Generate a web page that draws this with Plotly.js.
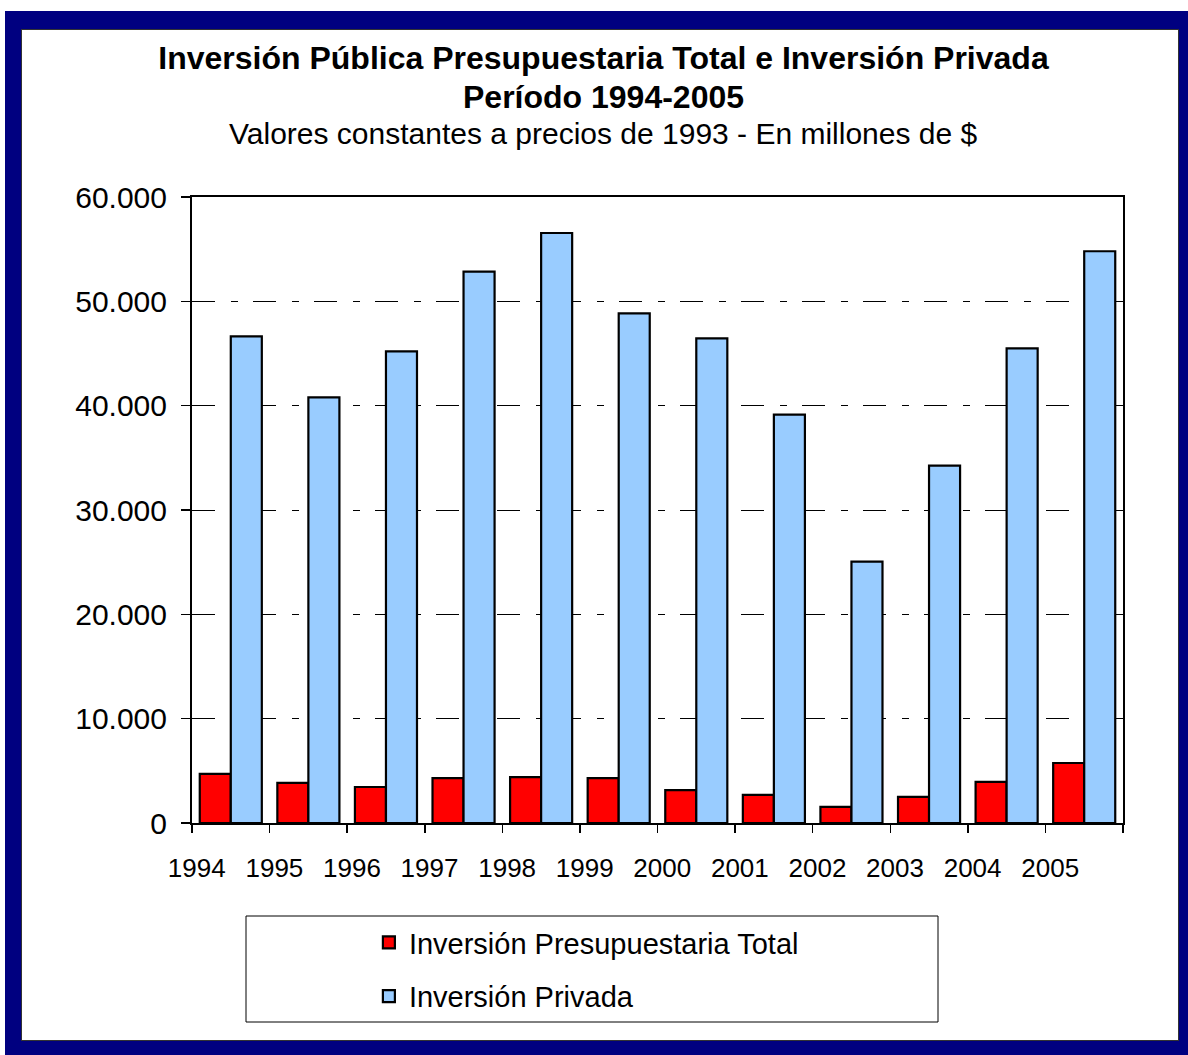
<!DOCTYPE html>
<html>
<head>
<meta charset="utf-8">
<script src="https://cdn.plot.ly/plotly-3.0.1.min.js"></script>
<style>
  html, body { margin: 0; padding: 0; background: #ffffff; width: 1188px; height: 1055px; overflow: hidden; }
  #frame { position: absolute; left: 5px; top: 11px; right: 0; bottom: 0; background: #000080; }
  #chart { position: absolute; left: 22px; top: 30px; width: 1156px; height: 1010px; background: #ffffff; outline: 1px solid #333; }
</style>
</head>
<body>
<div id="frame"></div>
<div id="chart"></div>
<script>
const years = ["1994","1995","1996","1997","1998","1999","2000","2001","2002","2003","2004","2005"];
const inversionPresupuestaria = [4700, 3850, 3450, 4300, 4400, 4300, 3150, 2700, 1550, 2500, 3950, 5750];
const inversionPrivada = [46650, 40800, 45200, 52850, 56550, 48850, 46450, 39150, 25050, 34250, 45500, 54800];
const seriesNames = ["Inversión Presupuestaria Total", "Inversión Privada"];
const titleLines = ["Inversión Pública Presupuestaria Total e Inversión Privada", "Período 1994-2005"];
const subtitle = "Valores constantes a precios de 1993 - En millones de $";

const FONT = "Liberation Sans, Arial, sans-serif";
const PW = 931, PH = 626, ML = 170, MT = 167;
const centerX = (581.5 - ML) / PW;

const traces = [
  {
    type: "bar", x: years, y: inversionPresupuestaria, name: seriesNames[0],
    legendgroup: "a",
    marker: { color: "#FF0000", line: { color: "#000000", width: 2.2 } },
    hoverinfo: "x+y"
  },
  {
    type: "bar", x: years, y: inversionPrivada, name: seriesNames[1],
    legendgroup: "b",
    marker: { color: "#99CCFF", line: { color: "#000000", width: 2.2 } },
    hoverinfo: "x+y"
  }
];

const layout = {
  width: 1156, height: 1010,
  paper_bgcolor: "#ffffff", plot_bgcolor: "#ffffff",
  separators: ",.",
  font: { family: FONT, color: "#000000" },
  margin: { l: ML, r: 55, t: MT, b: 217, pad: 0, autoexpand: false },
  barmode: "group", bargap: 0.2, bargroupgap: 0,
  title: {
    text: "<b>" + titleLines[0] + "</b>",
    font: { family: FONT, size: 32, color: "#000000" },
    x: 581.5 / 1156, xanchor: "center", xref: "container",
    y: 1 - 28 / 1010, yref: "container", yanchor: "middle"
  },
  annotations: [
    { text: "<b>" + titleLines[1] + "</b>", xref: "paper", yref: "paper", x: centerX, xanchor: "center",
      y: 1 + (MT - 67) / PH, yanchor: "middle", showarrow: false,
      font: { family: FONT, size: 32, color: "#000000" } },
    { text: subtitle, xref: "paper", yref: "paper", x: centerX, xanchor: "center",
      y: 1 + (MT - 104) / PH, yanchor: "middle", showarrow: false,
      font: { family: FONT, size: 30, color: "#000000" } }
  ],
  xaxis: {
    type: "category",
    tickson: "boundaries",
    ticks: "outside", ticklen: 8, tickwidth: 1.5, tickcolor: "#000",
    showline: true, linecolor: "#000", linewidth: 2, mirror: true,
    showgrid: false, zeroline: false,
    ticklabelshift: -34,
    ticklabelstandoff: 21,
    tickfont: { family: FONT, size: 26, color: "#000" }
  },
  yaxis: {
    range: [0, 60000], dtick: 10000, tick0: 0, tickformat: ",",
    ticks: "outside", ticklen: 9, tickwidth: 1.5, tickcolor: "#000",
    showline: true, linecolor: "#000", linewidth: 2, mirror: true,
    showgrid: true, gridcolor: "#000", gridwidth: 1, griddash: "23px,15.5px,7px,15.5px",
    zeroline: false,
    ticklabelstandoff: 8,
    tickfont: { family: FONT, size: 30, color: "#000" }
  },
  showlegend: true,
  legend: {
    orientation: "v",
    x: 0.19, xanchor: "left",
    y: (793 - 887) / PH, yanchor: "top", yref: "paper",
    bgcolor: "rgba(0,0,0,0)", borderwidth: 0,
    traceorder: "grouped",
    tracegroupgap: 13,
    font: { family: FONT, size: 29, color: "#000" }
  },
  shapes: [
    { type: "rect", xref: "paper", yref: "paper",
      x0: (224 - ML) / PW, x1: (916 - ML) / PW,
      y0: (793 - 992) / PH, y1: (793 - 886) / PH,
      line: { color: "#000", width: 1 }, fillcolor: "rgba(0,0,0,0)", layer: "below" }
  ]
};

Plotly.newPlot("chart", traces, layout, { displayModeBar: false, staticPlot: true });
</script>
</body>
</html>
